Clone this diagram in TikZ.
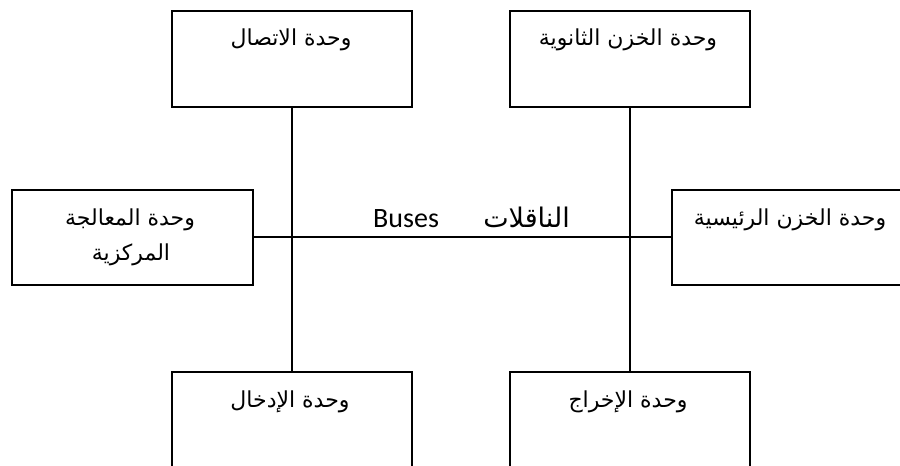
\documentclass[tikz,border=0pt]{standalone}
\usepackage{fontspec}
\TeXXeTstate=1
\newfontfamily\arabicfont[Script=Arabic]{DejaVu Sans}
\newfontfamily\latinfont{Carlito}
\newcommand{\ar}[1]{\beginR #1\endR}
\begin{document}
\begin{tikzpicture}[x=1pt,y=-1pt,
  unitbox/.style={draw=black,line width=1.6pt,minimum width=240pt,minimum height=96pt,inner sep=0pt,anchor=north west},
  lbl/.style={font=\arabicfont\fontsize{22}{26}\selectfont,anchor=base,inner sep=0pt},
  bus/.style={line width=1.8pt}]
\useasboundingbox (0,0) rectangle (900,466);
\clip (0,0) rectangle (900,466);
% units around the bus
\node[unitbox] (comm)   at (171,10)  {};
\node[unitbox] (store2) at (509,10)  {};
\node[unitbox,minimum width=241pt,minimum height=95pt] (cpu) at (11,189) {};
\node[unitbox,minimum height=95pt] (mem) at (671,189) {};
\node[unitbox] (input)  at (171,371) {};
\node[unitbox] (output) at (509,371) {};
% unit names
\node[lbl] (commT)   at (291,45)  {\ar{وحدة الاتصال}};
\node[lbl] (store2T) at (628,45)  {\ar{وحدة الخزن الثانوية}};
\node[lbl] (cpuT1)   at (130,225) {\ar{وحدة المعالجة}};
\node[lbl] (cpuT2)   at (131,260) {\ar{المركزية}};
\node[lbl] (memT)    at (790,225) {\ar{وحدة الخزن الرئيسية}};
\node[lbl] (inputT)  at (290,407) {\ar{وحدة الإدخال}};
\node[lbl] (outputT) at (628,407) {\ar{وحدة الإخراج}};
% bus lines
\draw[bus] (cpu.east) -- (mem.west);
\draw[bus] (comm.south) -- (input.north);
\draw[bus] (store2.south) -- (output.north);
% bus caption
\node[anchor=base west,inner sep=0pt,font=\latinfont\fontsize{28}{32}\selectfont] (busEn) at (373,227) {Buses};
\node[anchor=base east,inner sep=0pt,font=\arabicfont\fontsize{27}{31}\selectfont] (busAr) at (570,227) {\ar{الناقلات}};
\end{tikzpicture}
\end{document}
